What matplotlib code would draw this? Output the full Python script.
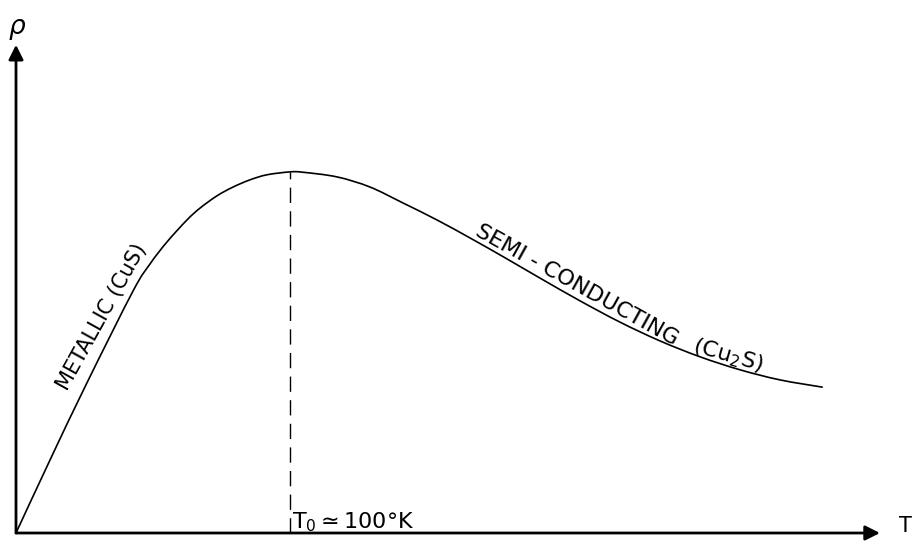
import numpy as np
import matplotlib
matplotlib.use("Agg")
import matplotlib.pyplot as plt
from matplotlib.path import Path
from matplotlib.patches import PathPatch

# resistividad vs temperatura (escala arbitraria, pico = 1 en T0 = 100 K)
T = [0, 12.4, 25.9, 42.7, 48.9, 55.1, 62.4, 67.2, 73.4, 79.2, 85.4, 91.6, 100.0,
     104.7, 117.2, 129.2, 141.2, 153.6, 165.7, 178.5, 191.2, 205.8, 220.4,
     235.0, 249.6, 264.2, 278.8, 294.2]
rho = [0, 0.202, 0.416, 0.670, 0.745, 0.806, 0.867, 0.900, 0.934, 0.958, 0.978, 0.992, 1.0,
       0.999, 0.986, 0.958, 0.914, 0.867, 0.817, 0.762, 0.706, 0.643, 0.584,
       0.532, 0.488, 0.452, 0.424, 0.404]
T0 = 100.0
rho_T0 = 1.0


def camino_suave(x, y):
    # Catmull-Rom -> segmentos de Bezier cubicos que pasan por los puntos
    p = np.column_stack([x, y])
    verts = [p[0]]
    codes = [Path.MOVETO]
    for i in range(len(p) - 1):
        p0 = p[i - 1] if i > 0 else p[i]
        p1 = p[i]
        p2 = p[i + 1]
        p3 = p[i + 2] if i + 2 < len(p) else p[i + 1]
        c1 = p1 + (p2 - p0) / 6.0
        c2 = p2 - (p3 - p1) / 6.0
        verts += [c1, c2, p2]
        codes += [Path.CURVE4] * 3
    return Path(verts, codes)


plt.rcParams['mathtext.default'] = 'regular'
plt.rcParams['font.family'] = ['DejaVu Sans']

fig = plt.figure(figsize=(9.17, 5.46), dpi=100)
ax = fig.add_axes([0, 0, 1, 1])
ax.set_xlim(-5.84, 328.8)
ax.set_ylim(-0.036, 1.476)
ax.axis('off')

# ejes con flechas
ax.annotate('', xy=(0, 1.352), xytext=(0, 0),
            arrowprops=dict(arrowstyle='-|>', lw=2, color='black', mutation_scale=22,
                            shrinkA=0, shrinkB=0))
ax.annotate('', xy=(315.3, 0), xytext=(0, 0),
            arrowprops=dict(arrowstyle='-|>', lw=2, color='black', mutation_scale=22,
                            shrinkA=0, shrinkB=0))
ax.text(0.3, 1.40, 'ρ', fontsize=19, style='italic', ha='center', va='center')
ax.text(324.5, 0.018, 'T', fontsize=15, ha='center', va='center')

# curva
ax.add_patch(PathPatch(camino_suave(T, rho), facecolor='none', edgecolor='black',
                       lw=1.2, capstyle='round'))

# linea punteada en T0
ax.plot([T0, T0], [0, rho_T0], color='black', lw=1.0, dashes=(11, 6))
ax.text(T0 + 0.8, 0.012, r'T$_0$$\simeq$100°K', fontsize=16, ha='left', va='baseline')

# etiquetas sobre la curva
ax.text(31.4, 0.597, 'METALLIC (CuS)', fontsize=15, rotation=61,
        ha='center', va='center', rotation_mode='anchor')
ax.text(204.5, 0.685, 'SEMI - CONDUCTING', fontsize=16, rotation=-29,
        ha='center', va='center', rotation_mode='anchor')
ax.text(259.9, 0.49, '(Cu$_2$S)', fontsize=16, rotation=-16,
        ha='center', va='center', rotation_mode='anchor')

fig.savefig('out.png', dpi=100)
